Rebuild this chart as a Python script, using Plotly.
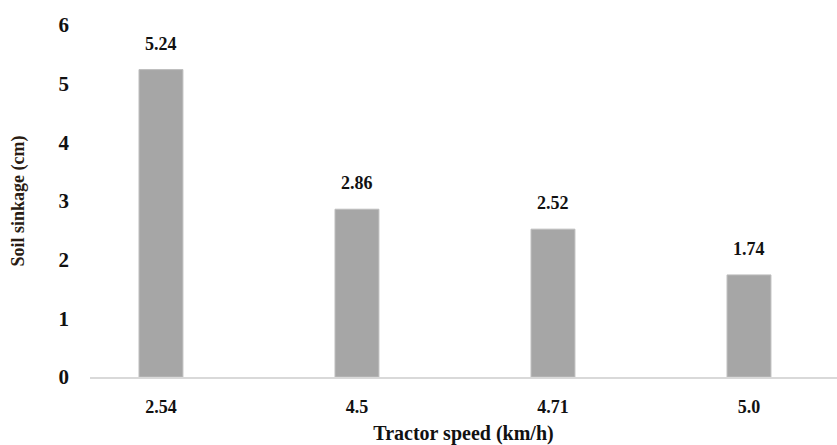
import plotly.graph_objects as go

# Tractor speed categories and measured soil sinkage
speeds = ["2.54", "4.5", "4.71", "5.0"]
sinkage = [5.24, 2.86, 2.52, 1.74]
y_ticks = [0, 1, 2, 3, 4, 5, 6]

serif = "Liberation Serif"

fig = go.Figure(
    go.Bar(
        x=speeds,
        y=sinkage,
        width=0.224,
        marker=dict(color="#A6A6A6", line=dict(color="#BDBDBD", width=1)),
        hoverinfo="skip",
    )
)

# Value labels above each bar (positioned by category index)
for i, v in enumerate(sinkage):
    fig.add_annotation(
        x=i, y=v, text=f"<b>{v:.2f}</b>", showarrow=False,
        yanchor="bottom", yshift=14,
        font=dict(family=serif, size=18, color="#111111"),
    )

fig.update_layout(
    width=837, height=445,
    margin=dict(l=90, r=0, t=25, b=66),
    paper_bgcolor="white", plot_bgcolor="white",
    showlegend=False,
    font=dict(family=serif, color="#111111"),
    xaxis=dict(
        type="category",
        range=[-0.362, 3.449],
        showline=True, linecolor="#D9D9D9", linewidth=1.5,
        showgrid=False, zeroline=False, ticks="",
        tickfont=dict(family=serif, size=18, color="#111111", weight="bold"),
        ticklabelstandoff=13,
        title=dict(text="<b>Tractor speed (km/h)</b>",
                   font=dict(family=serif, size=20, color="#111111"),
                   standoff=14),
    ),
    yaxis=dict(
        range=[0, 6],
        tickvals=y_ticks,
        showline=False, showgrid=False, zeroline=False, ticks="",
        tickfont=dict(family=serif, size=21, color="#111111", weight="bold"),
        ticklabelstandoff=20,
        title=dict(text="<b>Soil sinkage (cm)</b>",
                   font=dict(family=serif, size=18, color="#2a1c12"),
                   standoff=29),
    ),
)

fig.write_html("out.html")
